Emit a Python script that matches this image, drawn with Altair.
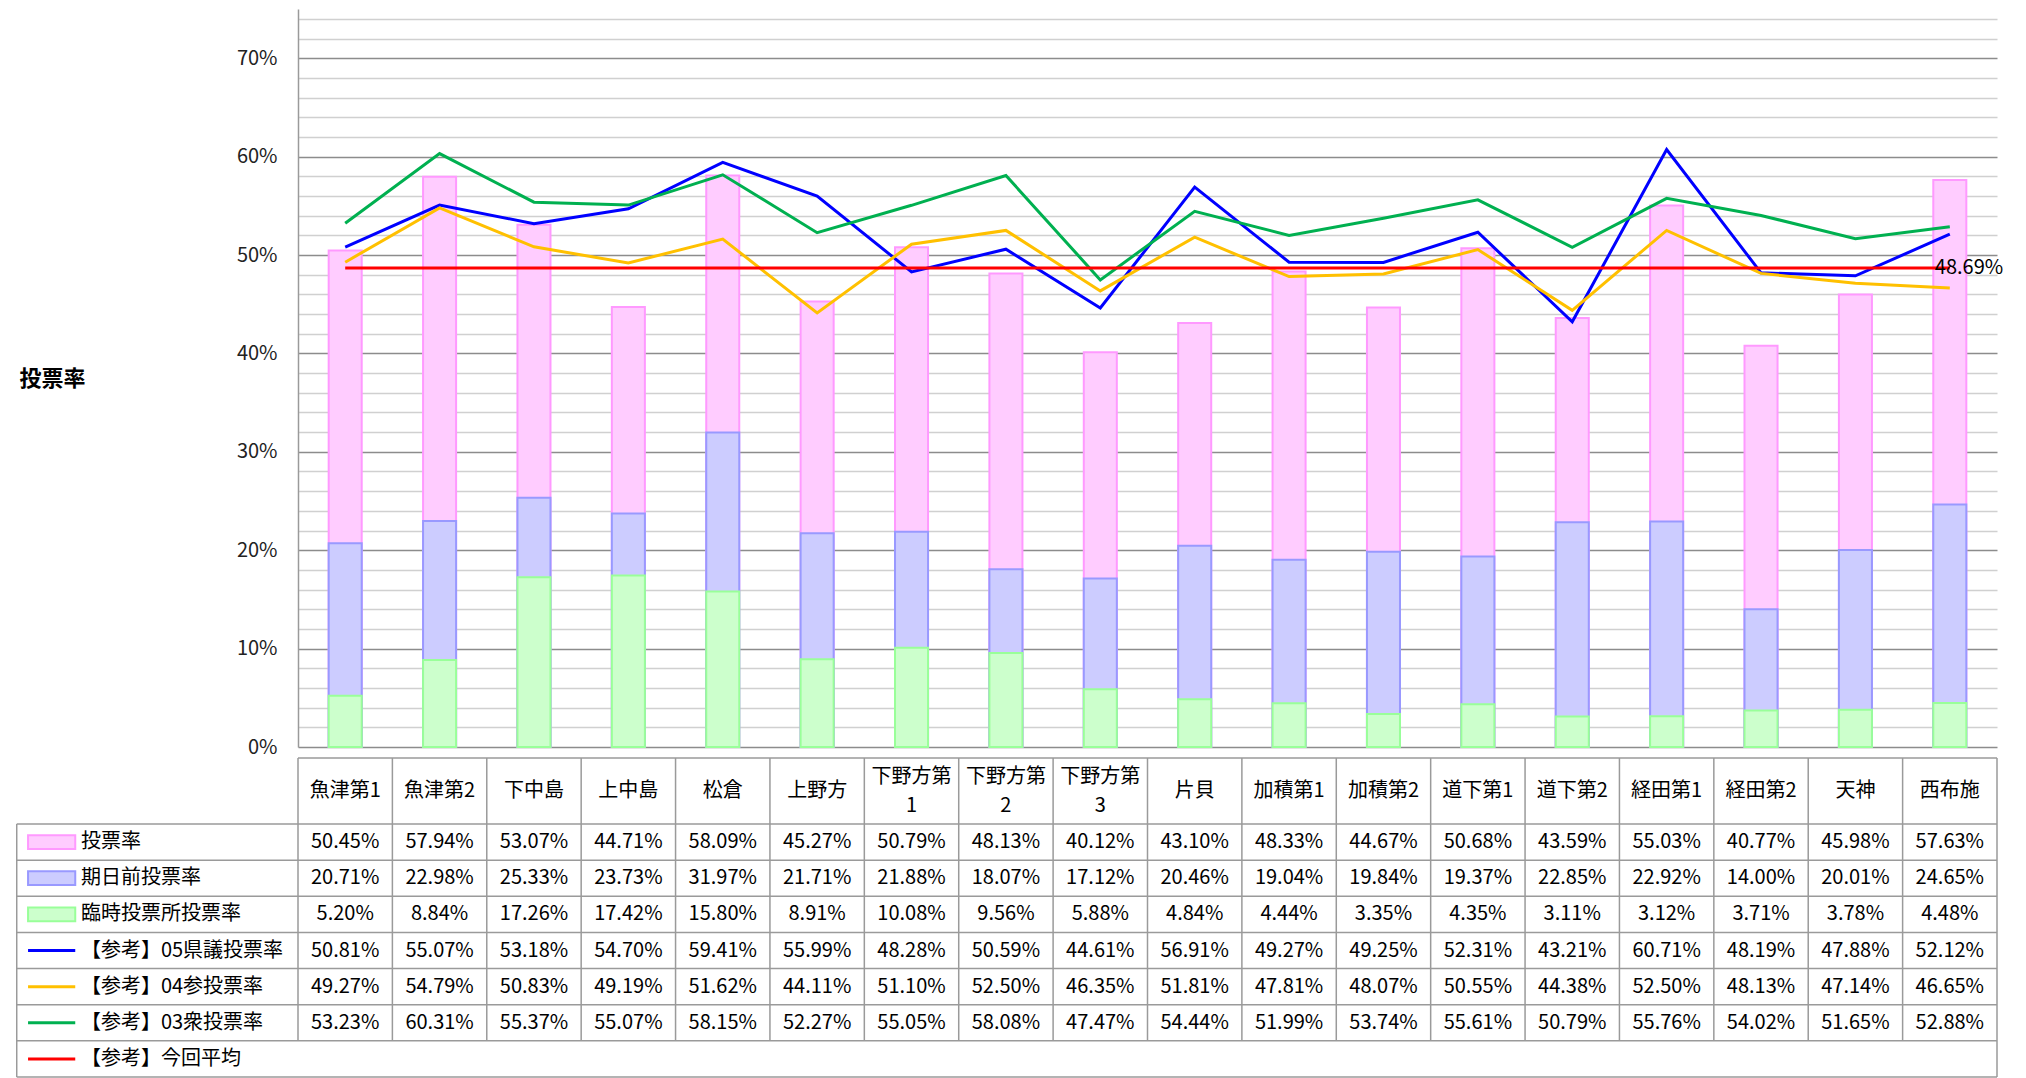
import altair as alt
import pandas as pd

# ---------------- data ----------------
cats = ["魚津第1", "魚津第2", "下中島", "上中島", "松倉", "上野方", "下野方第1", "下野方第2",
        "下野方第3", "片貝", "加積第1", "加積第2", "道下第1", "道下第2", "経田第1", "経田第2",
        "天神", "西布施"]
vote = [50.45, 57.94, 53.07, 44.71, 58.09, 45.27, 50.79, 48.13, 40.12, 43.10, 48.33, 44.67,
        50.68, 43.59, 55.03, 40.77, 45.98, 57.63]
early = [20.71, 22.98, 25.33, 23.73, 31.97, 21.71, 21.88, 18.07, 17.12, 20.46, 19.04, 19.84,
         19.37, 22.85, 22.92, 14.00, 20.01, 24.65]
temp = [5.20, 8.84, 17.26, 17.42, 15.80, 8.91, 10.08, 9.56, 5.88, 4.84, 4.44, 3.35,
        4.35, 3.11, 3.12, 3.71, 3.78, 4.48]
pref05 = [50.81, 55.07, 53.18, 54.70, 59.41, 55.99, 48.28, 50.59, 44.61, 56.91, 49.27, 49.25,
          52.31, 43.21, 60.71, 48.19, 47.88, 52.12]
upper04 = [49.27, 54.79, 50.83, 49.19, 51.62, 44.11, 51.10, 52.50, 46.35, 51.81, 47.81, 48.07,
           50.55, 44.38, 52.50, 48.13, 47.14, 46.65]
lower03 = [53.23, 60.31, 55.37, 55.07, 58.15, 52.27, 55.05, 58.08, 47.47, 54.44, 51.99, 53.74,
           55.61, 50.79, 55.76, 54.02, 51.65, 52.88]
avg = 48.69

series_names = ["投票率", "期日前投票率", "臨時投票所投票率", "【参考】05県議投票率",
                "【参考】04参投票率", "【参考】03衆投票率", "【参考】今回平均"]
y_ticks = list(range(0, 75, 2))

# ---------------- styles / layout ----------------
FONT = "Noto Sans CJK JP"
PINK_F, PINK_S = "#FFCCFF", "#FF99FF"
BLUE_F, BLUE_S = "#CCCCFF", "#9999FF"
GREEN_F, GREEN_S = "#CCFFCC", "#99FF99"
LINE_COLORS = ["#0000FF", "#FFC000", "#00B050", "#FF0000"]
GRID = "#9a9a9a"

PLOT_W, PLOT_H = 1699, 738
U = PLOT_W / 18.0          # pixels per category column
L = 2.98                   # width of the table's label column, in column units
TABLE_H = 319
HEADER_PX = 66
ROW_PX = (TABLE_H - HEADER_PX) / 7.0
H = HEADER_PX / ROW_PX     # header height, in row units
LINE_H = 29                # header line height (px)

# ---------------- main chart ----------------
df = pd.DataFrame({"cat": cats, "vote": vote, "early": early, "temp": temp})

x_enc = alt.X("cat:N", sort=cats, scale=alt.Scale(paddingInner=0, paddingOuter=0), axis=None)
y_scale = alt.Scale(domain=[0, 75], nice=False, zero=True)
y_axis = alt.Axis(
    values=y_ticks,
    labelExpr="datum.value % 10 === 0 ? datum.value + '%' : ''",
    labelOverlap=False,
    ticks=False, labelPadding=21, labelFontSize=20, labelFont=FONT, labelColor="#222222",
    domainColor=GRID, domainWidth=1.5,
    grid=True, gridWidth=1.5,
    gridColor=alt.condition("datum.value % 10 === 0", alt.value("#8c8c8c"), alt.value("#d0d0d0")),
    title="投票率", titleAngle=0, titleAlign="right", titleBaseline="middle",
    titleFont=FONT, titleFontSize=22, titleFontWeight="bold", titleColor="#000000",
    titlePadding=153, minExtent=60, maxExtent=60,
)

def ybar(field):
    return alt.Y(f"{field}:Q", scale=y_scale, axis=y_axis)

base = alt.Chart(df)
bw = alt.RelativeBandSize(0.35)
bar_pink = base.mark_bar(fill=PINK_F, stroke=PINK_S, strokeWidth=2, width=bw).encode(x=x_enc, y=ybar("vote"))
bar_blue = base.mark_bar(fill=BLUE_F, stroke=BLUE_S, strokeWidth=2, width=bw).encode(x=x_enc, y=ybar("early"))
bar_green = base.mark_bar(fill=GREEN_F, stroke=GREEN_S, strokeWidth=2, width=bw).encode(x=x_enc, y=ybar("temp"))

line_rows = []
for sname, vals in zip(series_names[3:6], [pref05, upper04, lower03]):
    for c, v in zip(cats, vals):
        line_rows.append({"series": sname, "cat": c, "value": v})
df_lines = pd.DataFrame(line_rows)
lines = alt.Chart(df_lines).mark_line(strokeWidth=3).encode(
    x=x_enc,
    y=alt.Y("value:Q", scale=y_scale, axis=y_axis),
    color=alt.Color("series:N", scale=alt.Scale(domain=series_names[3:6], range=LINE_COLORS[:3]), legend=None),
)

df_avg = pd.DataFrame({"cat": cats, "value": [avg] * len(cats)})
avg_line = alt.Chart(df_avg).mark_line(strokeWidth=3, color=LINE_COLORS[3]).encode(
    x=x_enc, y=alt.Y("value:Q", scale=y_scale, axis=y_axis))
avg_label = alt.Chart(pd.DataFrame({"cat": [cats[-1]], "value": [avg], "t": [f"{avg:.2f}%"]})).mark_text(
    align="left", baseline="middle", dx=-15, fontSize=20, font=FONT, color="#000000").encode(
    x=x_enc, y=alt.Y("value:Q", scale=y_scale, axis=y_axis), text="t:N")

top = alt.layer(bar_pink, bar_blue, bar_green, lines, avg_line, avg_label).properties(
    width=PLOT_W, height=PLOT_H)

# ---------------- data table ----------------
tx = alt.Scale(domain=[0, 18], nice=False, zero=False)
ty = alt.Scale(domain=[0, H + 7], nice=False, zero=False, reverse=True)

header_labels = [c[:4] + "\n" + c[4:] if c.startswith("下野方第") else c for c in cats]
header_y = [H / 2 - (LINE_H / 2.0) / ROW_PX if "\n" in t else H / 2 for t in header_labels]
df_head = pd.DataFrame({"x": [i + 0.5 for i in range(18)], "y": header_y, "t": header_labels})
head_text = alt.Chart(df_head).mark_text(fontSize=20, font=FONT, color="#000000", lineBreak="\n",
                                         lineHeight=LINE_H, baseline="middle").encode(
    x=alt.X("x:Q", scale=tx, axis=None), y=alt.Y("y:Q", scale=ty, axis=None), text="t:N")

val_rows = []
for r, vals in enumerate([vote, early, temp, pref05, upper04, lower03]):
    for i, v in enumerate(vals):
        val_rows.append({"x": i + 0.5, "y": H + r + 0.5, "t": f"{v:.2f}%"})
df_vals = pd.DataFrame(val_rows)
val_text = alt.Chart(df_vals).mark_text(fontSize=20, font=FONT, color="#000000", baseline="middle").encode(
    x=alt.X("x:Q", scale=tx, axis=None), y=alt.Y("y:Q", scale=ty, axis=None), text="t:N")

df_leg = pd.DataFrame({"x": [-L + 0.68] * 7, "y": [H + r + 0.5 for r in range(7)], "t": series_names})
leg_text = alt.Chart(df_leg).mark_text(fontSize=20, font=FONT, color="#000000", align="left",
                                       baseline="middle").encode(
    x=alt.X("x:Q", scale=tx, axis=None), y=alt.Y("y:Q", scale=ty, axis=None), text="t:N")

sw_h = 0.19
df_sw = pd.DataFrame({
    "x": [-L + 0.12] * 3, "x2": [-L + 0.62] * 3,
    "y": [H + r + 0.5 - sw_h for r in range(3)], "y2": [H + r + 0.5 + sw_h for r in range(3)],
    "f": [PINK_F, BLUE_F, GREEN_F], "s": [PINK_S, BLUE_S, GREEN_S],
})
sw_rect = alt.Chart(df_sw).mark_rect(strokeWidth=2).encode(
    x=alt.X("x:Q", scale=tx, axis=None), x2="x2:Q",
    y=alt.Y("y:Q", scale=ty, axis=None), y2="y2:Q",
    fill=alt.Fill("f:N", scale=None), stroke=alt.Stroke("s:N", scale=None))

df_swl = pd.DataFrame({"x": [-L + 0.12] * 4, "x2": [-L + 0.62] * 4,
                       "y": [H + r + 0.5 for r in range(3, 7)], "c": LINE_COLORS})
sw_line = alt.Chart(df_swl).mark_rule(strokeWidth=3).encode(
    x=alt.X("x:Q", scale=tx, axis=None), x2="x2:Q",
    y=alt.Y("y:Q", scale=ty, axis=None), color=alt.Color("c:N", scale=None))

grid_rows = []
for i in range(18):
    grid_rows.append({"x": i, "x2": i, "y": 0, "y2": H + 6})
grid_rows.append({"x": 18, "x2": 18, "y": 0, "y2": H + 7})
grid_rows.append({"x": -L, "x2": -L, "y": H, "y2": H + 7})
grid_rows.append({"x": 0, "x2": 18, "y": 0, "y2": 0})
for k in range(8):
    grid_rows.append({"x": -L, "x2": 18, "y": H + k, "y2": H + k})
df_grid = pd.DataFrame(grid_rows)
table_grid = alt.Chart(df_grid).mark_rule(color=GRID, strokeWidth=1.5).encode(
    x=alt.X("x:Q", scale=tx, axis=None), x2="x2:Q",
    y=alt.Y("y:Q", scale=ty, axis=None), y2="y2:Q")

table = alt.layer(table_grid, sw_rect, sw_line, head_text, val_text, leg_text).properties(
    width=PLOT_W, height=TABLE_H)

chart = alt.vconcat(top, table, spacing=0).properties(
    padding={"left": 7, "top": 0, "right": 0, "bottom": 0}
).configure_view(stroke=None)

chart.save("out.html", embed_options={"renderer": "svg", "actions": False})
